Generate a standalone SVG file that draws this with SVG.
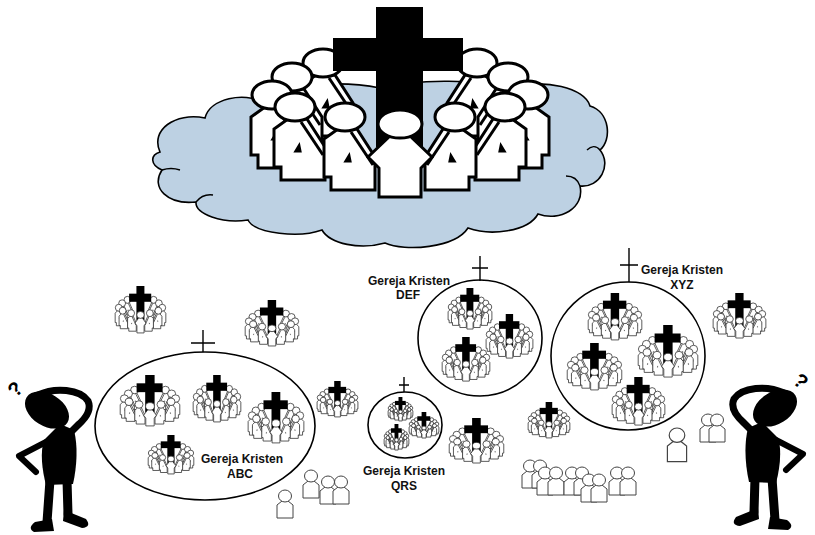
<svg xmlns="http://www.w3.org/2000/svg" width="815" height="535" viewBox="0 0 815 535">
<style>
.lbl{font-family:"Liberation Sans",Arial,sans-serif;font-weight:bold;font-size:12px;fill:#111;text-anchor:middle}
.q{font-family:"Liberation Sans",Arial,sans-serif;font-weight:bold;font-size:20px;fill:#000;text-anchor:middle}
.ring{fill:none;stroke:#000;stroke-width:1.6}
.tick{fill:none;stroke:#000;stroke-width:1.4}
.fig{fill:#fff;vector-effect:non-scaling-stroke}
.arm{fill:none;vector-effect:non-scaling-stroke}
.big{stroke:#000;stroke-width:3}
.sm{stroke:#333;stroke-width:0.8}
.solo{fill:#fff;stroke:#444;stroke-width:1}
.limb{fill:none;stroke:#000;stroke-linecap:round;stroke-linejoin:round}
.cloud{fill:#bdd1e3;stroke:#000;stroke-width:1.6}
.puff{fill:none;stroke:#000;stroke-width:1.4}
</style>
<defs>
  <!-- person facing the viewer -->
  <g id="pc">
    <path class="fig" d="M-10,12 L-32,33 L-21,44 L-21,73 L21,73 L21,44 L32,33 L10,12 Z"/>
    <ellipse class="fig" cx="0" cy="0" rx="22" ry="14"/>
  </g>
  <!-- person turned toward the middle, holding a book -->
  <g id="ps">
    <path class="fig" d="M-7,12 L-21,22 L-21,60 L-14,60 L-14,73 L30,73 L30,40 L12,12 Z"/>
    <path class="arm" d="M6,15 L28,48"/>
    <path d="M1,44 L5,44 L4,39 Z" fill="#000"/>
    <ellipse class="fig" cx="0" cy="0" rx="20" ry="14"/>
  </g>
  <!-- congregation gathered round a cross; origin = top of cross -->
  <g id="flock">
    <use href="#ps" transform="translate(-77,56)"/>
    <use href="#ps" transform="translate(77,56) scale(-1,1)"/>
    <rect x="-24" y="0" width="47" height="140" fill="#000" stroke="none"/>
    <rect x="-67" y="31" width="130" height="33" fill="#000" stroke="none"/>
    <use href="#ps" transform="translate(-108,70)"/>
    <use href="#ps" transform="translate(108,70) scale(-1,1)"/>
    <use href="#ps" transform="translate(-128,88)"/>
    <use href="#ps" transform="translate(128,88) scale(-1,1)"/>
    <use href="#ps" transform="translate(-105,100)"/>
    <use href="#ps" transform="translate(105,100) scale(-1,1)"/>
    <use href="#ps" transform="translate(-55,110)"/>
    <use href="#ps" transform="translate(55,110) scale(-1,1)"/>
    <use href="#pc" transform="translate(0,117)"/>
  </g>
  <!-- single outlined person -->
  <g id="solo">
    <path d="M-3,11 L-8,15 L-8,28 L8,28 L8,15 L3,11 Z"/>
    <ellipse cx="0" cy="6" rx="6.5" ry="6"/>
  </g>
  <!-- puzzled onlooker scratching his head -->
  <g id="man">
    <ellipse cx="47" cy="410" rx="24" ry="16" transform="rotate(32 47 410)"/>
    <path class="limb" stroke-width="7" d="M38,395 C55,387 80,389 88,401 C92,410 86,418 78,425 L70,433"/>
    <path d="M60,424 L74,430 C78,446 77,466 73,484 L46,485 C42,470 40,452 44,440 Z"/>
    <path class="limb" stroke-width="6" d="M46,442 L19,456 L36,472"/>
    <path class="limb" stroke-width="9" d="M50,480 L47,522"/>
    <path class="limb" stroke-width="9" d="M67,480 L68,514"/>
    <path d="M52,519 L54,531 L34,532 Q27,528 35,522 Z"/>
    <path d="M64,510 L86,519 Q92,527 82,528 L63,521 Z"/>
  </g>
</defs>

<rect width="815" height="535" fill="#fff"/>

<!-- heaven: cloud with the gathered church -->
<g id="heaven">
  <path class="cloud" d="M160,152 C150,130 175,112 205,118 C210,98 245,92 262,102 C290,80 350,82 380,88 C420,78 480,80 510,88 C545,78 585,88 590,106 C610,112 612,140 600,150 C612,165 600,188 580,186 C585,208 560,222 538,214 C528,232 490,236 468,228 C455,248 405,252 385,243 C360,250 330,244 322,230 C300,238 255,234 248,220 C222,224 195,214 196,202 C168,205 150,188 162,170 C150,165 150,155 160,152 Z"/>
  <path class="puff" d="M600,150 C596,145 591,146 587,150"/>
  <path class="puff" d="M580,186 C578,180 573,176 566,176"/>
  <path class="puff" d="M196,202 C200,197 206,194 213,195"/>
  <path class="puff" d="M162,170 C168,168 174,168 180,170"/>
  <use href="#flock" class="big" transform="translate(400,7)"/>
</g>

<!-- named churches -->
<g id="church-abc">
  <ellipse class="ring" cx="205" cy="426" rx="110" ry="74"/>
  <path class="tick" d="M203,330 V352 M191,343 H215"/>
  <text class="lbl" x="242" y="463">Gereja Kristen</text>
  <text class="lbl" x="240" y="478">ABC</text>
</g>
<g id="church-def">
  <ellipse class="ring" cx="480" cy="338" rx="62" ry="58"/>
  <path class="tick" d="M480,256 V281 M472,268 H488"/>
  <text class="lbl" x="409" y="285">Gereja Kristen</text>
  <text class="lbl" x="408" y="299">DEF</text>
</g>
<g id="church-qrs">
  <ellipse class="ring" cx="405" cy="425" rx="37" ry="33"/>
  <path class="tick" d="M404,377 V392 M399,385 H409"/>
  <text class="lbl" x="404" y="475">Gereja Kristen</text>
  <text class="lbl" x="404" y="490">QRS</text>
</g>
<g id="church-xyz">
  <ellipse class="ring" cx="628" cy="356" rx="77" ry="74"/>
  <path class="tick" d="M629,248 V282 M620,265 H638"/>
  <text class="lbl" x="682" y="274">Gereja Kristen</text>
  <text class="lbl" x="682" y="289">XYZ</text>
</g>

<!-- small congregations -->
<g id="flocks">
  <use href="#flock" class="sm" transform="translate(140.5,286) scale(.170,.247)"/>
  <use href="#flock" class="sm" transform="translate(272,300) scale(.180,.242)"/>
  <use href="#flock" class="sm" transform="translate(150,375) scale(.200,.268)"/>
  <use href="#flock" class="sm" transform="translate(217,375) scale(.160,.247)"/>
  <use href="#flock" class="sm" transform="translate(276,392) scale(.187,.268)"/>
  <use href="#flock" class="sm" transform="translate(171,435) scale(.153,.205)"/>
  <use href="#flock" class="sm" transform="translate(337.5,381) scale(.137,.189)"/>
  <use href="#flock" class="sm" transform="translate(470,288) scale(.147,.216)"/>
  <use href="#flock" class="sm" transform="translate(509.5,314) scale(.157,.232)"/>
  <use href="#flock" class="sm" transform="translate(466,337) scale(.160,.232)"/>
  <use href="#flock" class="sm" transform="translate(400.5,397) scale(.083,.126)"/>
  <use href="#flock" class="sm" transform="translate(424,412) scale(.100,.137)"/>
  <use href="#flock" class="sm" transform="translate(396.5,424) scale(.083,.137)"/>
  <use href="#flock" class="sm" transform="translate(476.5,418) scale(.183,.237)"/>
  <use href="#flock" class="sm" transform="translate(549,402) scale(.140,.189)"/>
  <use href="#flock" class="sm" transform="translate(615,293) scale(.180,.247)"/>
  <use href="#flock" class="sm" transform="translate(668,325) scale(.200,.274)"/>
  <use href="#flock" class="sm" transform="translate(594.5,343) scale(.183,.247)"/>
  <use href="#flock" class="sm" transform="translate(638.5,377) scale(.177,.253)"/>
  <use href="#flock" class="sm" transform="translate(739.5,293) scale(.177,.237)"/>
</g>

<!-- scattered individuals -->
<g id="people">
  <use href="#solo" class="solo" transform="translate(311,470)"/>
  <use href="#solo" class="solo" transform="translate(328,476)"/>
  <use href="#solo" class="solo" transform="translate(341,476)"/>
  <use href="#solo" class="solo" transform="translate(285,490)"/>
  <use href="#solo" class="solo" transform="translate(677,428) scale(1.2)"/>
  <use href="#solo" class="solo" transform="translate(708,414)"/>
  <use href="#solo" class="solo" transform="translate(717,414)"/>
  <use href="#solo" class="solo" transform="translate(530,460)"/>
  <use href="#solo" class="solo" transform="translate(540,460)"/>
  <use href="#solo" class="solo" transform="translate(545,467)"/>
  <use href="#solo" class="solo" transform="translate(556,467)"/>
  <use href="#solo" class="solo" transform="translate(572,467)"/>
  <use href="#solo" class="solo" transform="translate(582,467)"/>
  <use href="#solo" class="solo" transform="translate(589,474)"/>
  <use href="#solo" class="solo" transform="translate(599,474)"/>
  <use href="#solo" class="solo" transform="translate(617,467)"/>
  <use href="#solo" class="solo" transform="translate(628,467)"/>
</g>

<!-- onlookers -->
<g id="onlooker-left">
  <use href="#man"/>
  <text class="q" x="15" y="396" transform="rotate(-45 15 389)">?</text>
</g>
<g id="onlooker-right">
  <use href="#man" transform="translate(822,-2) scale(-1,1)"/>
  <text class="q" x="801" y="388" transform="rotate(40 801 381)">?</text>
</g>
</svg>
